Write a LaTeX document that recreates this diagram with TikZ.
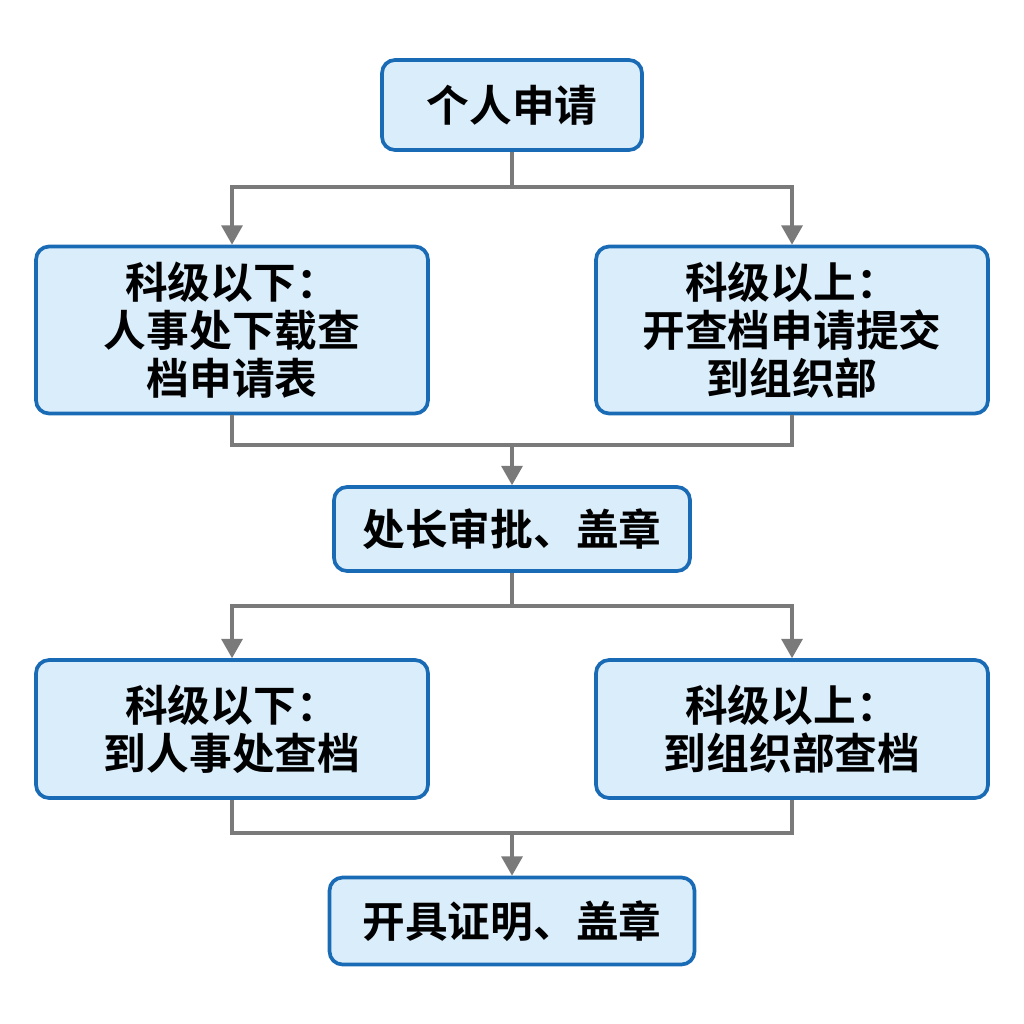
\documentclass[tikz,border=0pt]{standalone}
\usepackage{fontspec}
\setmainfont{Noto Sans CJK SC Bold}
\usetikzlibrary{arrows.meta}
\definecolor{boxline}{HTML}{1A6BB5}
\definecolor{boxfill}{HTML}{DAEDFA}
\definecolor{linkgray}{HTML}{7A7A7A}
\begin{document}
\begin{tikzpicture}[x=0.02cm,y=-0.02cm,
	box/.style={draw=boxline,line width=2.1pt,fill=boxfill,rounded corners=0.26cm,
		align=center,font=\fontsize{24.3}{27.5}\selectfont,inner sep=0pt},
	link/.style={draw=linkgray,line width=1.8pt},
	arr/.style={link,-{Triangle[length=11pt,width=12pt]}}]
	\useasboundingbox (0,0) rectangle (1024,1024);
	\node[box,minimum width=5.2cm,minimum height=1.8cm] (apply) at (512,105) {个人申请};
	\node[box,minimum width=7.84cm,minimum height=3.34cm] (l1) at (232,330) {科级以下：\\人事处下载查\\档申请表};
	\node[box,minimum width=7.84cm,minimum height=3.34cm] (r1) at (792,330) {科级以上：\\开查档申请提交\\到组织部};
	\node[box,minimum width=7.12cm,minimum height=1.68cm] (sign) at (512,529) {处长审批、盖章};
	\node[box,minimum width=7.84cm,minimum height=2.76cm] (l2) at (232,729) {科级以下：\\到人事处查档};
	\node[box,minimum width=7.84cm,minimum height=2.76cm] (r2) at (792,729) {科级以上：\\到组织部查档};
	\node[box,minimum width=7.3cm,minimum height=1.74cm] (cert) at (512,921) {开具证明、盖章};

	\coordinate (s1) at (512,187);
	\coordinate (m1) at (512,445);
	\coordinate (s2) at (512,606);
	\coordinate (m2) at (512,833);

	\draw[link] (apply) -- (s1);
	\draw[arr] (s1) -| (l1);
	\draw[arr] (s1) -| (r1);
	\draw[link] (l1) |- (m1);
	\draw[link] (r1) |- (m1);
	\draw[arr] (m1) -- (sign);
	\draw[link] (sign) -- (s2);
	\draw[arr] (s2) -| (l2);
	\draw[arr] (s2) -| (r2);
	\draw[link] (l2) |- (m2);
	\draw[link] (r2) |- (m2);
	\draw[arr] (m2) -- (cert);
\end{tikzpicture}
\end{document}
